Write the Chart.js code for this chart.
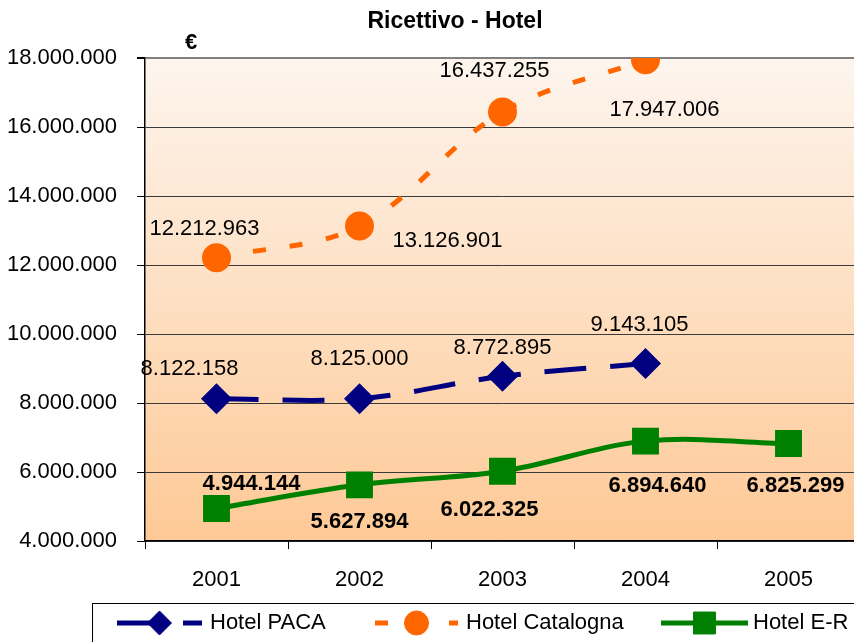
<!DOCTYPE html>
<html>
<head>
<meta charset="utf-8">
<script src="https://cdn.jsdelivr.net/npm/chart.js@4.4.1/dist/chart.umd.min.js"></script>
<style>
    html, body { margin: 0; padding: 0; background: #fff; overflow: hidden; }
    #myChart { display: block; width: 870px; height: 642px; }
</style>
</head>
<body>
<canvas id="myChart" width="870" height="642"></canvas>
<script>
// Dati
const anni = ['2001', '2002', '2003', '2004', '2005'];
const hotelPaca = [8122158, 8125000, 8772895, 9143105, null];
const hotelCatalogna = [12212963, 13126901, 16437255, 17947006, null];
const hotelER = [4944144, 5627894, 6022325, 6894640, 6825299];
const tickValori = [4000000, 6000000, 8000000, 10000000, 12000000, 14000000, 16000000, 18000000];

const FONT = "'Liberation Sans Narrow', 'Arial Narrow', 'Liberation Sans', Arial, sans-serif";

function formatta(v) {
    return String(Math.round(v)).replace(/\B(?=(\d{3})+(?!\d))/g, '.');
}

// posizione delle etichette rispetto al punto (dx, dy)
const spostamenti = [
    [[-27, -30], [0, -40], [0, -28], [-6, -39], [0, 0]],
    [[-12, -29], [88, 15], [-8, -41], [19, 50], [0, 0]],
    [[35, -24], [0, 37], [-13, 39], [12, 45], [7, 42]]
];

const sfondo = {
    id: 'sfondo',
    beforeDraw(chart) {
        const { ctx, chartArea: a } = chart;
        const g = ctx.createLinearGradient(0, a.top, 0, a.bottom);
        g.addColorStop(0, '#fdf5ee');
        g.addColorStop(1, '#fec996');
        ctx.save();
        ctx.fillStyle = g;
        ctx.fillRect(a.left, a.top, a.right - a.left, a.bottom - a.top);
        ctx.restore();
    }
};

const etichette = {
    id: 'etichette',
    afterDatasetsDraw(chart) {
        const ctx = chart.ctx;
        ctx.save();
        ctx.textAlign = 'center';
        ctx.textBaseline = 'middle';
        ctx.fillStyle = '#000';
        chart.data.datasets.forEach((ds, i) => {
            ctx.font = (i === 2 ? 'bold ' : '') + '22px ' + FONT;
            chart.getDatasetMeta(i).data.forEach((pt, j) => {
                const v = ds.data[j];
                if (v == null) return;
                const off = spostamenti[i][j];
                ctx.fillText(formatta(v), pt.x + off[0], pt.y + off[1]);
            });
        });
        ctx.restore();
    }
};

const testi = {
    id: 'testi',
    afterDraw(chart) {
        const ctx = chart.ctx;
        ctx.save();
        ctx.fillStyle = '#000';
        ctx.textAlign = 'center';
        ctx.textBaseline = 'middle';
        ctx.font = 'bold 23px ' + FONT;
        ctx.fillText('Ricettivo - Hotel', 455, 22);
        ctx.font = 'bold 22px ' + FONT;
        ctx.fillText('€', 191, 43);

        // legenda
        ctx.strokeStyle = '#000';
        ctx.lineWidth = 1;
        ctx.strokeRect(92.5, 603.5, 900, 100);
        const voci = [
            { x0: 117, x1: 202, tx: 210 },
            { x0: 375, x1: 458, tx: 466 },
            { x0: 661, x1: 748, tx: 753 }
        ];
        const y = 623;
        chart.data.datasets.forEach((ds, i) => {
            const v = voci[i];
            ctx.save();
            ctx.strokeStyle = ds.borderColor;
            ctx.lineWidth = ds.borderWidth;
            ctx.setLineDash(ds.borderDash || []);
            ctx.beginPath();
            ctx.moveTo(v.x0, y);
            ctx.lineTo(v.x1, y);
            ctx.stroke();
            ctx.restore();
            ctx.save();
            ctx.fillStyle = ds.backgroundColor;
            ctx.strokeStyle = ds.borderColor;
            ctx.lineWidth = 1;
            Chart.helpers.drawPoint(ctx, {
                pointStyle: ds.pointStyle,
                radius: ds.pointRadius,
                rotation: 0,
                borderWidth: 1
            }, (v.x0 + v.x1) / 2, y);
            ctx.restore();
            ctx.fillStyle = '#000';
            ctx.font = '22px ' + FONT;
            ctx.textAlign = 'left';
            ctx.fillText(ds.label, v.tx, y);
        });
        ctx.restore();
    }
};

document.addEventListener('DOMContentLoaded', () => {
    const ctx = document.getElementById('myChart').getContext('2d');

    new Chart(ctx, {
        type: 'line',
        data: {
            labels: anni,
            datasets: [{
                label: 'Hotel PACA',
                data: hotelPaca,
                borderColor: '#000080',
                backgroundColor: '#000080',
                borderWidth: 5,
                borderDash: [42, 24],
                pointStyle: 'rectRot',
                pointRadius: 12,
                tension: 0.35
            }, {
                label: 'Hotel Catalogna',
                data: hotelCatalogna,
                borderColor: '#ff6600',
                backgroundColor: '#ff6600',
                borderWidth: 5,
                borderDash: [13, 24],
                pointStyle: 'circle',
                pointRadius: 12,
                tension: 0.35
            }, {
                label: 'Hotel E-R',
                data: hotelER,
                borderColor: '#008000',
                backgroundColor: '#008000',
                borderWidth: 5,
                pointStyle: 'rect',
                pointRadius: 15.5,
                tension: 0.35
            }]
        },
        options: {
            responsive: false,
            animation: false,
            layout: { autoPadding: false, padding: { top: 58, left: 0, right: 10, bottom: 0 } },
            plugins: {
                legend: { display: false },
                title: { display: false },
                tooltip: { enabled: false }
            },
            scales: {
                x: {
                    offset: true,
                    afterFit(scale) { scale.height = 101; },
                    grid: {
                        offset: true,
                        drawOnChartArea: false,
                        tickLength: 8,
                        color: '#000'
                    },
                    border: { color: '#000', width: 1.5 },
                    ticks: {
                        padding: 18,
                        color: '#000',
                        font: { family: FONT, size: 22 }
                    }
                },
                y: {
                    min: 4000000,
                    max: 18000000,
                    afterFit(scale) { scale.width = 145; },
                    afterBuildTicks(scale) {
                        scale.ticks = tickValori.map(v => ({ value: v }));
                    },
                    grid: {
                        color: (c) => c.tick && c.tick.value === 18000000 ? '#808080' : '#3a3a3a',
                        tickColor: '#000',
                        tickLength: 8,
                        lineWidth: (c) => c.tick && c.tick.value === 18000000 ? 2 : 1
                    },
                    border: { color: '#000', width: 1.5 },
                    ticks: {
                        padding: 20,
                        color: '#000',
                        font: { family: FONT, size: 22 },
                        callback: (v) => formatta(v)
                    }
                }
            }
        },
        plugins: [sfondo, etichette, testi]
    });
});
</script>
</body>
</html>
